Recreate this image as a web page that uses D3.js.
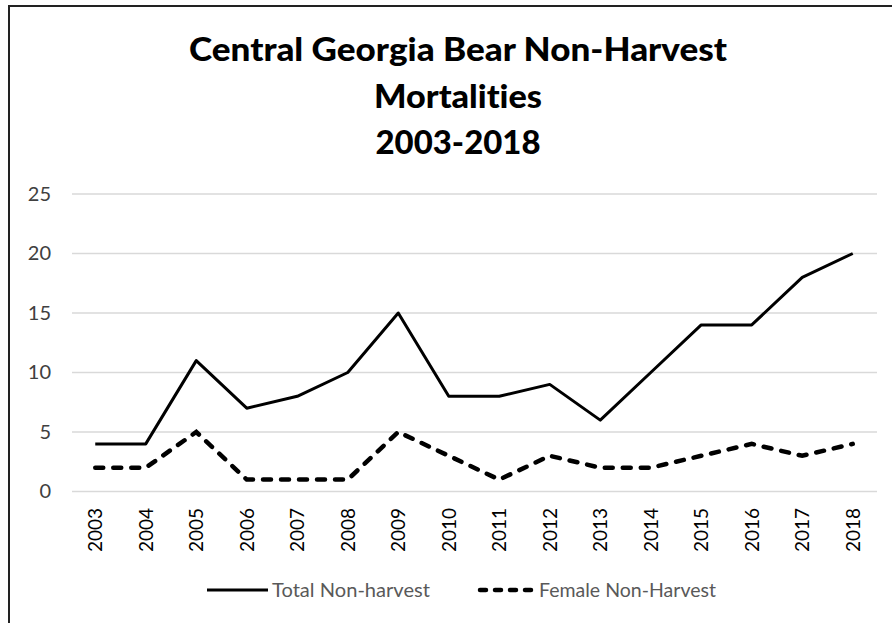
<!DOCTYPE html>
<html>
<head>
<meta charset="utf-8">
<script src="https://cdn.jsdelivr.net/npm/d3@7"></script>
<style>
  body { margin: 0; background: #fff; }
  svg { display: block; font-family: Lato, "Open Sans", sans-serif; font-variant-ligatures: none; }
</style>
</head>
<body>
<svg id="chart" width="892" height="623"></svg>
<script>
const years = ["2003", "2004", "2005", "2006", "2007", "2008", "2009", "2010",
               "2011", "2012", "2013", "2014", "2015", "2016", "2017", "2018"];
const totalNonHarvest = [4, 4, 11, 7, 8, 10, 15, 8, 8, 9, 6, 10, 14, 14, 18, 20];
const femaleNonHarvest = [2, 2, 5, 1, 1, 1, 5, 3, 1, 3, 2, 2, 3, 4, 3, 4];
const yTicks = [0, 5, 10, 15, 20, 25];
const titleLines = ["Central Georgia Bear Non-Harvest", "Mortalities", "2003-2018"];
const legendLabels = ["Total Non-harvest", "Female Non-Harvest"];

const svg = d3.select("#chart");

// chart border (runs off right and bottom edges like the cropped original)
svg.append("rect")
    .attr("x", 9).attr("y", 6)
    .attr("width", 1000).attr("height", 1000)
    .attr("fill", "none")
    .attr("stroke", "#222")
    .attr("stroke-width", 2);

const x = d3.scalePoint()
    .domain(years)
    .range([70, 878])
    .padding(0.5);

const y = d3.scaleLinear()
    .domain([0, 25])
    .range([491.5, 194]);

// title
const titleWidths = [538, 168, 165];
svg.append("g").selectAll("text")
    .data(titleLines)
    .join("text")
    .attr("x", 458)
    .attr("y", (d, i) => 61 + i * 46.5)
    .attr("text-anchor", "middle")
    .attr("font-size", 33)
    .attr("font-weight", 900)
    .attr("fill", "#000")
    .attr("textLength", (d, i) => titleWidths[i])
    .attr("lengthAdjust", "spacingAndGlyphs")
    .text(d => d);

// gridlines
svg.append("g").selectAll("line")
    .data(yTicks)
    .join("line")
    .attr("x1", 72).attr("x2", 877)
    .attr("y1", d => y(d)).attr("y2", d => y(d))
    .attr("stroke", "#d9d9d9")
    .attr("stroke-width", 1.5);

// y axis labels
const yAxis = svg.append("g")
    .attr("transform", "translate(51,0)")
    .call(d3.axisLeft(y).tickValues(yTicks).tickSize(0).tickPadding(0));
yAxis.select(".domain").remove();
yAxis.selectAll("text")
    .attr("font-family", "Lato, sans-serif")
    .attr("font-size", 20)
    .attr("fill", "#404040");

// x axis labels (rotated)
const xAxis = svg.append("g")
    .attr("transform", "translate(0,505)")
    .call(d3.axisBottom(x).tickSize(0).tickPadding(0));
xAxis.select(".domain").remove();
xAxis.selectAll("text")
    .attr("font-family", "Lato, sans-serif")
    .attr("font-size", 19)
    .attr("fill", "#000")
    .attr("text-anchor", "end")
    .attr("transform", "rotate(-90)")
    .attr("x", -3)
    .attr("y", 0)
    .attr("dy", "0.35em");

// lines
const line = d3.line()
    .x((d, i) => x(years[i]))
    .y(d => y(d));

svg.append("path")
    .datum(totalNonHarvest)
    .attr("d", line)
    .attr("fill", "none")
    .attr("stroke", "#000")
    .attr("stroke-width", 3)
    .attr("stroke-linejoin", "round");

svg.append("path")
    .datum(femaleNonHarvest)
    .attr("d", line)
    .attr("fill", "none")
    .attr("stroke", "#000")
    .attr("stroke-width", 4.5)
    .attr("stroke-linecap", "round")
    .attr("stroke-dasharray", "8,10");

// legend
const legendY = 590;
const legend = [
  { x1: 207, x2: 268, dash: null, text: legendLabels[0], tx: 272, tw: 158 },
  { x1: 480, x2: 534, dash: "6,9", text: legendLabels[1], tx: 539, tw: 177 }
];
const lg = svg.append("g").selectAll("g")
    .data(legend)
    .join("g");
lg.append("line")
    .attr("x1", d => d.x1).attr("x2", d => d.x2)
    .attr("y1", legendY).attr("y2", legendY)
    .attr("stroke", "#000")
    .attr("stroke-width", d => d.dash ? 4.5 : 3)
    .attr("stroke-linecap", d => d.dash ? "round" : "butt")
    .attr("stroke-dasharray", d => d.dash);
lg.append("text")
    .attr("x", d => d.tx)
    .attr("y", legendY)
    .attr("dy", "0.35em")
    .attr("font-size", 19)
    .attr("fill", "#595959")
    .attr("textLength", d => d.tw)
    .attr("lengthAdjust", "spacingAndGlyphs")
    .text(d => d.text);
</script>
</body>
</html>
